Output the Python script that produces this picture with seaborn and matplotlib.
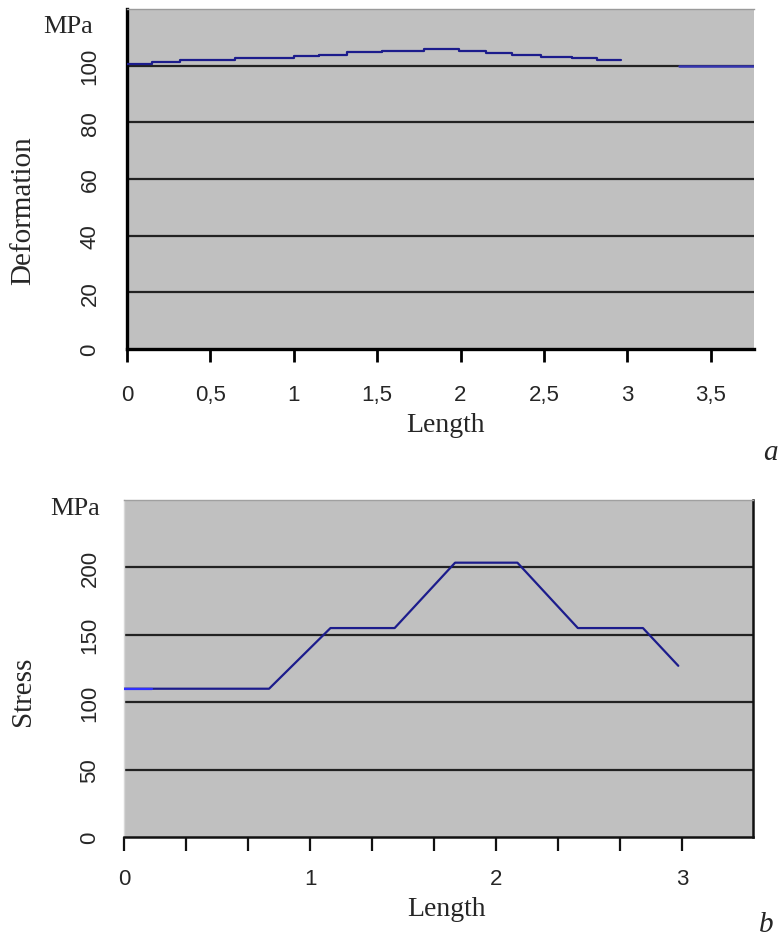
import numpy as np
import pandas as pd
import seaborn as sns
import matplotlib.pyplot as plt

# chart a: deformation along the length (stepped curve)
deform_x = [0.0, 0.15, 0.32, 0.65, 1.0, 1.15, 1.32, 1.53, 1.78, 1.99, 2.15, 2.31, 2.48, 2.67, 2.82, 2.96]
deform_y = [100.6, 101.4, 102.0, 102.6, 103.3, 103.9, 104.7, 105.3, 105.9, 105.1, 104.5, 103.9, 103.2, 102.6, 101.9, 101.9]
deform_tail_x = [3.31, 3.76]
deform_tail_y = [100, 100]

# chart b: stress along the length
stress_x = [0.0, 0.78, 1.11, 1.455, 1.78, 2.115, 2.44, 2.79, 2.98]
stress_y = [110, 110, 155, 155, 203.5, 203.5, 155, 155, 127]
stress_head_x = [0.0, 0.15]
stress_head_y = [110, 110]

top_xticks = [0, 0.5, 1, 1.5, 2, 2.5, 3, 3.5]
top_xlabels = ['0', '0,5', '1', '1,5', '2', '2,5', '3', '3,5']
top_yticks = [0, 20, 40, 60, 80, 100]
bot_xticks = [0, 1/3, 2/3, 1, 4/3, 5/3, 2, 7/3, 8/3, 3]
bot_xlabels = ['0', '', '', '1', '', '', '2', '', '', '3']
bot_yticks = [0, 50, 100, 150, 200]

W, H = 779, 937
gray = '#c0c0c0'
navy = '#1c1c8c'
tick_font = ['Liberation Sans', 'DejaVu Sans']
serif = ['Liberation Serif', 'DejaVu Serif']

sns.set_style('white')
plt.rcParams['font.family'] = tick_font

fig = plt.figure(figsize=(W / 100, H / 100), dpi=100)
ax1 = fig.add_axes([127 / W, 1 - 350 / H, 627 / W, 340 / H])
ax2 = fig.add_axes([124 / W, 1 - 838 / H, 628.7 / W, 337 / H])

df1 = pd.DataFrame({'Length': deform_x, 'Deformation': deform_y})
df1t = pd.DataFrame({'Length': deform_tail_x, 'Deformation': deform_tail_y})
df2 = pd.DataFrame({'Length': stress_x, 'Stress': stress_y})
df2h = pd.DataFrame({'Length': stress_head_x, 'Stress': stress_head_y})

for ax in (ax1, ax2):
    ax.set_facecolor(gray)

# --- chart a ---
ax1.set_xlim(0, 3.76)
ax1.set_ylim(0, 120)
for v in top_yticks[1:]:
    ax1.axhline(v, color='#222222', lw=1.6, zorder=1)
sns.lineplot(x='Length', y='Deformation', data=df1, ax=ax1, color=navy, lw=1.6,
             drawstyle='steps-post', estimator=None, errorbar=None, zorder=3)
sns.lineplot(x='Length', y='Deformation', data=df1t, ax=ax1, color='#3535b0', lw=1.8,
             estimator=None, errorbar=None, zorder=3)
ax1.set_xticks(top_xticks)
ax1.set_xticklabels(top_xlabels)
ax1.set_yticks(top_yticks)
ax1.tick_params(axis='x', direction='out', length=9, width=2, color='black', pad=16,
                labelsize=16, bottom=True)
ax1.tick_params(axis='y', length=0, pad=19, labelsize=16, labelrotation=90, left=True)
ax1.spines['left'].set_linewidth(2.4)
ax1.spines['left'].set_color('black')
ax1.spines['bottom'].set_linewidth(2.4)
ax1.spines['bottom'].set_color('black')
ax1.spines['top'].set_color('#9a9a9a')
ax1.spines['top'].set_linewidth(1)
ax1.spines['right'].set_visible(False)
ax1.set_xlabel('')
ax1.set_ylabel('')

# --- chart b ---
ax2.set_xlim(0, 3.38)
ax2.set_ylim(0, 250)
for v in bot_yticks[1:]:
    ax2.axhline(v, color='#222222', lw=1.6, zorder=1)
sns.lineplot(x='Length', y='Stress', data=df2, ax=ax2, color=navy, lw=1.6,
             estimator=None, errorbar=None, zorder=3)
sns.lineplot(x='Length', y='Stress', data=df2h, ax=ax2, color='#3030ff', lw=1.6,
             estimator=None, errorbar=None, zorder=4)
ax2.set_xticks(bot_xticks)
ax2.set_xticklabels(bot_xlabels)
ax2.set_yticks(bot_yticks)
ax2.tick_params(axis='x', direction='out', length=10, width=1.6, color='#111111', pad=12,
                labelsize=16, bottom=True)
ax2.tick_params(axis='y', length=0, pad=17, labelsize=16, labelrotation=90, left=True)
ax2.spines['bottom'].set_linewidth(1.8)
ax2.spines['bottom'].set_color('#111111')
ax2.spines['right'].set_linewidth(1.8)
ax2.spines['right'].set_color('#111111')
ax2.spines['top'].set_color('#a0a0a0')
ax2.spines['top'].set_linewidth(1)
ax2.spines['left'].set_color('#d8d8d8')
ax2.spines['left'].set_linewidth(1)
ax2.set_xlabel('')
ax2.set_ylabel('')

for ax in (ax1, ax2):
    for lab in ax.get_yticklabels():
        lab.set_va('center')

# serif annotations
def ftext(x, y, s, **kw):
    fig.text(x / W, 1 - y / H, s, family=serif, **kw)

ftext(68, 27, 'MPa', fontsize=19, ha='center', va='center')
ftext(23, 211, 'Deformation', fontsize=21, rotation=90, ha='center', va='center')
ftext(445, 426, 'Length', fontsize=20, ha='center', va='center')
ftext(778, 453, 'a', fontsize=21, style='italic', ha='right', va='center')

ftext(75, 509, 'MPa', fontsize=19, ha='center', va='center')
ftext(23, 691, 'Stress', fontsize=21, rotation=90, ha='center', va='center')
ftext(446, 910, 'Length', fontsize=20, ha='center', va='center')
ftext(766, 925, 'b', fontsize=21, style='italic', ha='center', va='center')

plt.savefig('out.png', dpi=100)
plt.close()
